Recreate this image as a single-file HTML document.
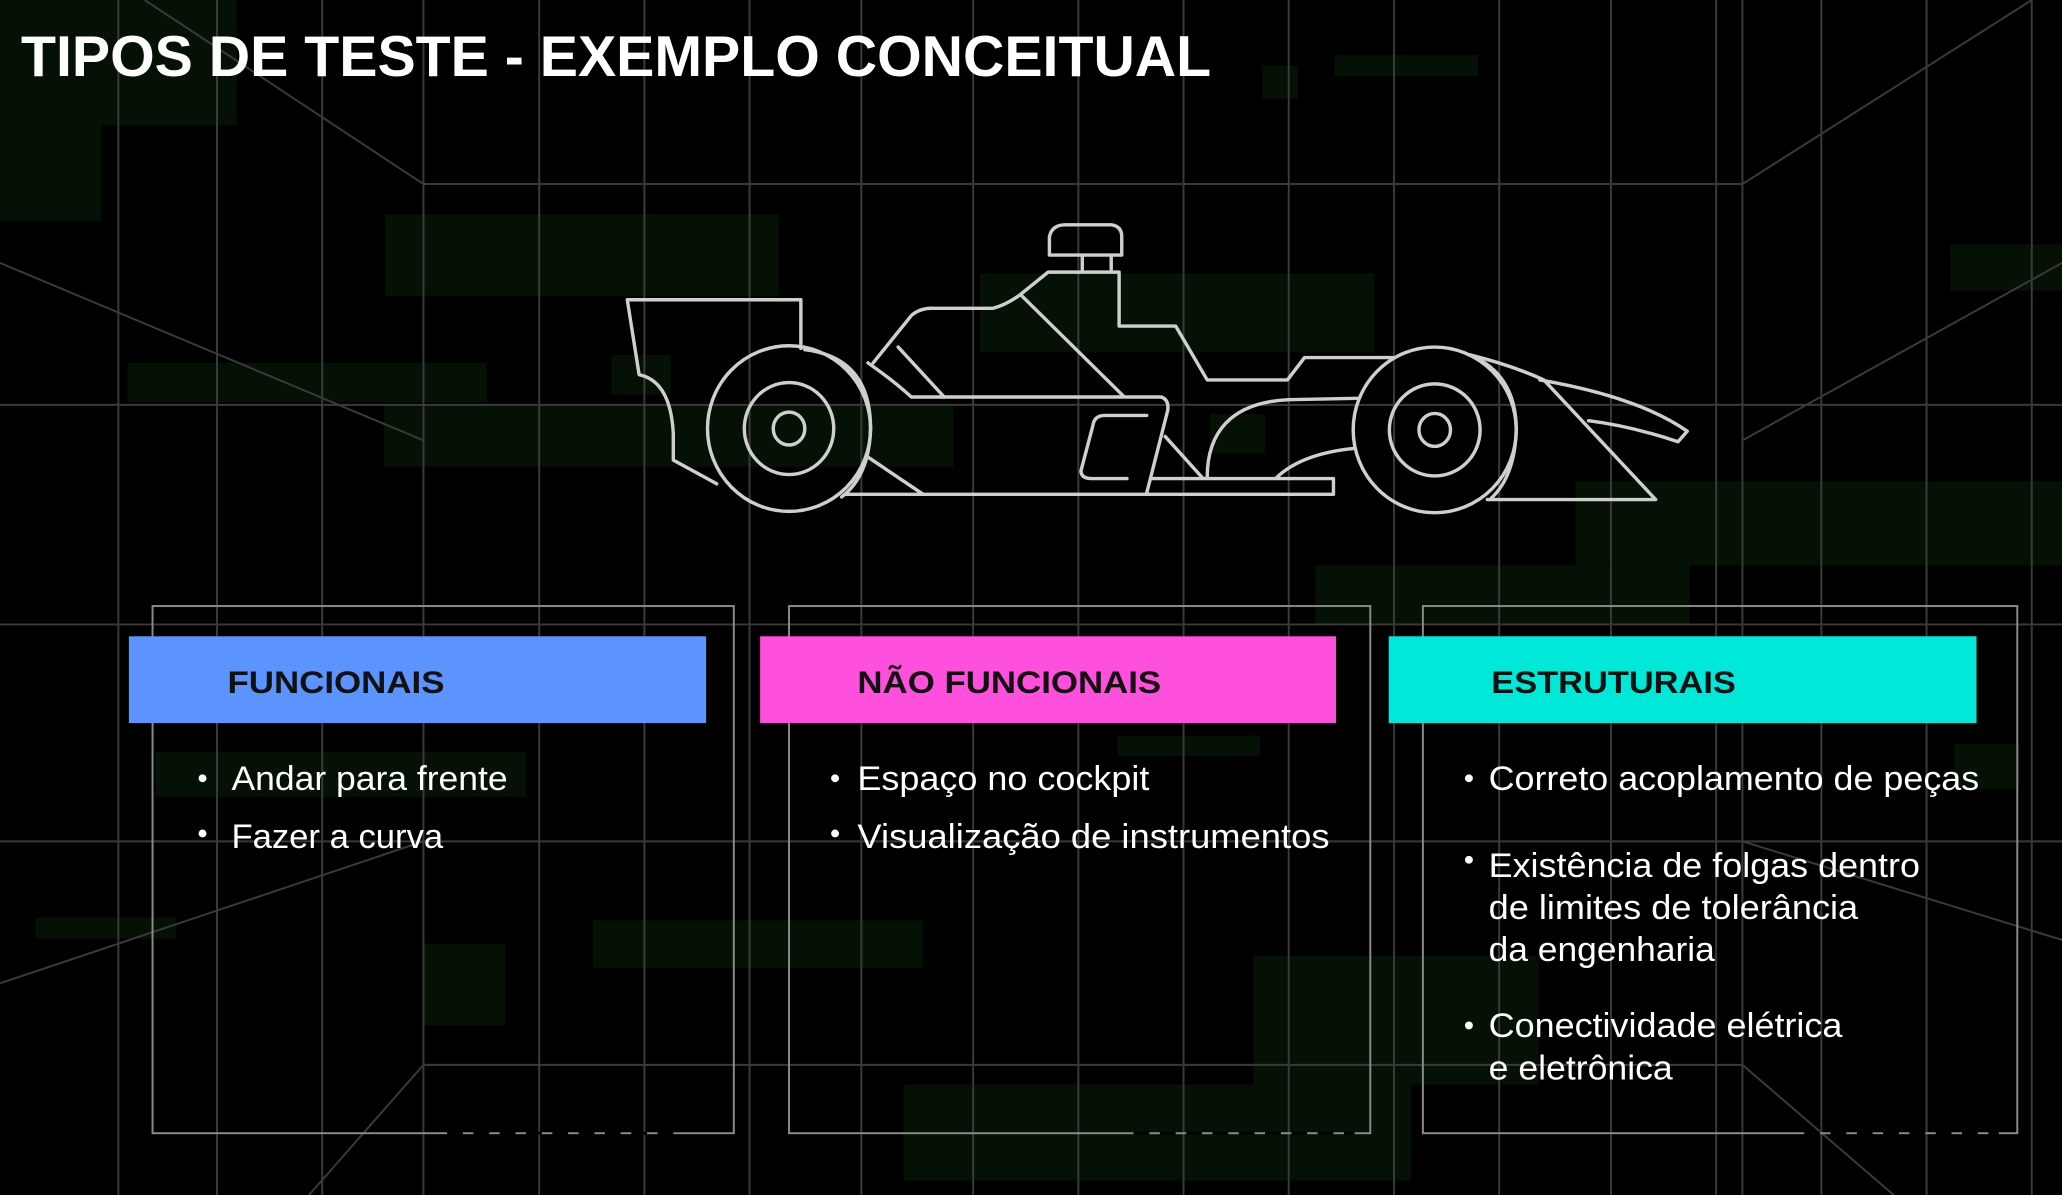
<!DOCTYPE html>
<html><head><meta charset="utf-8"><style>
html,body{margin:0;padding:0;background:#000;width:2062px;height:1195px;overflow:hidden}
svg{display:block}
text{font-family:"Liberation Sans",sans-serif}
</style></head><body>
<svg width="2062" height="1195" viewBox="0 0 1568 909" preserveAspectRatio="none" xmlns="http://www.w3.org/2000/svg">
<rect width="1568" height="909" fill="#000"/>
<g fill="#061106">
<rect x="0" y="0" width="180" height="95"/><rect x="0" y="95" width="77" height="73"/>
<rect x="293" y="163" width="299" height="62"/><rect x="97" y="276" width="273" height="30"/>
<rect x="292" y="308" width="433" height="47"/><rect x="465" y="270" width="45" height="30"/>
<rect x="745" y="208" width="300" height="60"/><rect x="1015" y="42" width="109" height="16"/>
<rect x="960" y="50" width="27" height="25"/><rect x="1483" y="186" width="85" height="35"/>
<rect x="1198" y="366" width="370" height="64"/><rect x="1000" y="430" width="285" height="45"/>
<rect x="118" y="572" width="282" height="34"/><rect x="850" y="560" width="108" height="15"/>
<rect x="1486" y="566" width="49" height="34"/><rect x="27" y="698" width="107" height="16"/>
<rect x="451" y="700" width="251" height="36"/><rect x="322" y="718" width="62" height="62"/>
<rect x="953" y="727" width="217" height="98"/><rect x="687" y="825" width="386" height="73"/>
<rect x="920" y="315" width="42" height="30"/>
</g>
<g stroke="#3a3a3a" stroke-width="1.5" fill="none">
<path d="M90 0V909M165 0V909M245 0V909M322 0V909M410 0V909M490 0V909M570 0V909M655 0V909M740 0V909M820 0V909M900 0V909M980 0V909M1060 0V909M1140 0V909M1225 0V909M1305 0V909M1325 0V909M1385 0V909M1465 0V909M1545 0V909"/>
<path d="M322 140H1325M0 308H1568M0 475H1568M0 640H1568M322 810H1325"/>
<path d="M110 0L322 140M1325 140L1545 0M0 200L322 335M1325 335L1568 200M0 748L322 640M1325 640L1568 715M322 810L235 909M1325 810L1440 909"/>
</g>
<text x="16" y="58" font-size="44" font-weight="bold" fill="#fff" textLength="905" lengthAdjust="spacingAndGlyphs">TIPOS DE TESTE - EXEMPLO CONCEITUAL</text>
<g stroke="#cfcfcf" stroke-width="2.6" fill="none" stroke-linejoin="round" stroke-linecap="round">
<path d="M609 265V228H477L486 285Q510 290 512 330L512 350L545 368"/>
<ellipse cx="600" cy="326" rx="62" ry="63"/><ellipse cx="600" cy="326" rx="34" ry="35"/><ellipse cx="600" cy="326" rx="12" ry="12.5"/>
<path d="M612 266Q662 272 662 326Q661 362 640 378"/>
<path d="M660 276Q680 290 693 302H883Q889 304 888 312L872 375"/>
<path d="M643 376H1014V364H875"/>
<path d="M659 347L702 376"/>
<path d="M664 276L693 240Q700 234 710 234.5H755Q765 232 776 224L797 207H851V248H894L918 289H979L992 272H1059"/>
<path d="M777 225L854 301"/>
<path d="M683 264L718 302"/>
<path d="M798 194V180Q800 171 810 171H845Q853 172 853 180V194Z"/>
<path d="M823 194V205M845 194V205"/>
<path d="M872 316H840Q832 316 831 324L822 358Q822 364 830 364H857"/>
<path d="M886 332L914 363"/>
<path d="M918 363C918 330 935 306 980 304L1032 303"/>
<path d="M971 363Q990 345 1030 341"/>
<ellipse cx="1091" cy="327" rx="62" ry="63"/><ellipse cx="1091" cy="327" rx="34.5" ry="35"/><ellipse cx="1091" cy="327" rx="12" ry="12.5"/>
<path d="M1118 270Q1153 285 1153 327Q1152 362 1134 379"/>
<path d="M1118 270Q1150 278 1174 289L1259 380H1131"/>
<path d="M1171 289Q1246 302 1283 328L1276 336Q1240 324 1208 320"/>
</g>
<g fill="none" stroke="#8a8a8a" stroke-width="1.5">
<rect x="116" y="461" width="442" height="401"/>
<rect x="600" y="461" width="442" height="401"/>
<rect x="1082" y="461" width="452" height="401"/>
</g>
<g stroke="#000" stroke-width="2" stroke-dasharray="12 8">
<path d="M340 862H515M862 862H1030M1372 862H1520"/>
</g>
<rect x="98" y="484" width="439" height="66" fill="#5b93ff"/>
<rect x="578" y="484" width="438" height="66" fill="#ff4fdc"/>
<rect x="1056" y="484" width="447" height="66" fill="#00e8d8"/>
<g font-size="24" font-weight="bold" fill="#111">
<text x="173" y="527" textLength="165" lengthAdjust="spacingAndGlyphs">FUNCIONAIS</text>
<text x="652" y="527" textLength="231" lengthAdjust="spacingAndGlyphs">NÃO FUNCIONAIS</text>
<text x="1134" y="527" textLength="186" lengthAdjust="spacingAndGlyphs">ESTRUTURAIS</text>
</g>
<g font-size="26" fill="#fff" lengthAdjust="spacingAndGlyphs">
<circle cx="154" cy="592" r="3"/><text x="176" y="601" textLength="210" lengthAdjust="spacingAndGlyphs">Andar para frente</text>
<circle cx="154" cy="634" r="3"/><text x="176" y="645" textLength="161" lengthAdjust="spacingAndGlyphs">Fazer a curva</text>
<circle cx="635" cy="592" r="3"/><text x="652" y="601" textLength="222" lengthAdjust="spacingAndGlyphs">Espaço no cockpit</text>
<circle cx="635" cy="634" r="3"/><text x="652" y="645" textLength="359" lengthAdjust="spacingAndGlyphs">Visualização de instrumentos</text>
<circle cx="1117" cy="592" r="3"/><text x="1132" y="601" textLength="373" lengthAdjust="spacingAndGlyphs">Correto acoplamento de peças</text>
<circle cx="1117" cy="654" r="3"/><text x="1132" y="667" textLength="328" lengthAdjust="spacingAndGlyphs">Existência de folgas dentro</text>
<text x="1132" y="699" textLength="281" lengthAdjust="spacingAndGlyphs">de limites de tolerância</text>
<text x="1132" y="731" textLength="172" lengthAdjust="spacingAndGlyphs">da engenharia</text>
<circle cx="1117" cy="780" r="3"/><text x="1132" y="789" textLength="269" lengthAdjust="spacingAndGlyphs">Conectividade elétrica</text>
<text x="1132" y="821" textLength="140" lengthAdjust="spacingAndGlyphs">e eletrônica</text>
</g>
</svg>
</body></html>
